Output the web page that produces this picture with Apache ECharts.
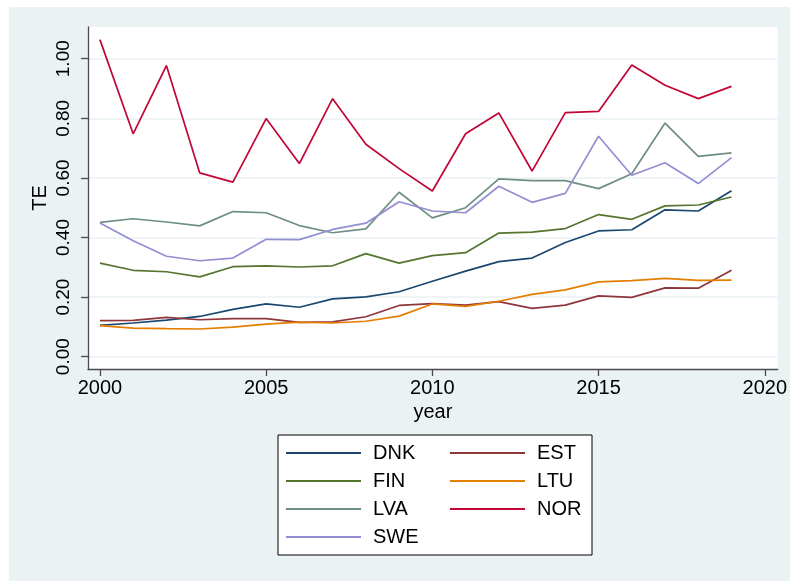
<!DOCTYPE html>
<html>
<head>
<meta charset="utf-8">
<script src="https://cdn.jsdelivr.net/npm/echarts@6/dist/echarts.min.js"></script>
<style>
html,body{margin:0;padding:0;background:#fff;}
#chart{width:790px;height:581px;}
</style>
</head>
<body>
<div id="chart"></div>
<script>
var years = [2000,2001,2002,2003,2004,2005,2006,2007,2008,2009,2010,2011,2012,2013,2014,2015,2016,2017,2018,2019];
var DNK = [0.105,0.113,0.123,0.135,0.159,0.177,0.166,0.194,0.201,0.218,0.253,0.287,0.319,0.331,0.383,0.422,0.426,0.493,0.489,0.557];
var EST = [0.121,0.122,0.132,0.124,0.128,0.128,0.115,0.117,0.134,0.172,0.178,0.173,0.185,0.162,0.173,0.204,0.199,0.231,0.230,0.290];
var FIN = [0.314,0.290,0.285,0.268,0.302,0.305,0.301,0.305,0.346,0.314,0.339,0.349,0.415,0.418,0.430,0.477,0.461,0.506,0.509,0.536];
var LTU = [0.104,0.096,0.094,0.093,0.099,0.109,0.116,0.113,0.119,0.136,0.177,0.169,0.186,0.209,0.224,0.251,0.255,0.263,0.256,0.257];
var LVA = [0.451,0.463,0.452,0.439,0.487,0.483,0.440,0.416,0.429,0.552,0.466,0.500,0.597,0.591,0.591,0.564,0.614,0.784,0.672,0.684];
var NOR = [1.064,0.748,0.977,0.617,0.586,0.799,0.648,0.866,0.713,0.631,0.556,0.748,0.818,0.623,0.819,0.823,0.979,0.911,0.866,0.907];
var SWE = [0.449,0.389,0.337,0.322,0.331,0.394,0.393,0.427,0.448,0.520,0.489,0.483,0.572,0.518,0.548,0.740,0.609,0.651,0.581,0.668];

var xTicks = [2000,2005,2010,2015,2020];
var yTicks = [0,0.2,0.4,0.6,0.8,1.0];

var seriesDefs = [
  {name:'DNK', data:DNK, color:'#1a476f'},
  {name:'EST', data:EST, color:'#90353b'},
  {name:'FIN', data:FIN, color:'#55752f'},
  {name:'LTU', data:LTU, color:'#e37e00'},
  {name:'LVA', data:LVA, color:'#6e8e84'},
  {name:'NOR', data:NOR, color:'#c10534'},
  {name:'SWE', data:SWE, color:'#938dd2'}
];

var FONT = '"Liberation Sans", Arial, Helvetica, sans-serif';
var AX = '#4a4a4a';

var chart = echarts.init(document.getElementById('chart'), null, {renderer:'canvas'});

var series = seriesDefs.map(function(s){
  return {
    name: s.name,
    type: 'line',
    data: years.map(function(y,i){return [y, s.data[i]];}),
    symbol: 'none',
    color: s.color,
    itemStyle: {color: s.color},
    lineStyle: {color: s.color, width: 1.7},
    clip: false,
    animation: false
  };
});

var legendCommon = {
  orient: 'vertical',
  icon: 'rect',
  itemWidth: 75,
  itemHeight: 2,
  itemGap: 8,
  padding: 0,
  selectedMode: false,
  textStyle: {fontFamily: FONT, fontSize: 20, color: '#000', padding: [0,0,0,7]}
};

var option = {
  backgroundColor: '#fff',
  animation: false,
  graphic: [
    {type:'rect', z:-10, silent:true, shape:{x:9, y:7, width:781, height:574}, style:{fill:'#EAF2F3'}},
    {type:'rect', z:100, silent:true, shape:{x:278, y:435, width:314, height:120}, style:{fill:'#fff', stroke:'#000', lineWidth:1}}
  ],
  grid: {
    left: 88, top: 27, width: 694, height: 342,
    show: true, backgroundColor: '#fff', borderWidth: 0,
    containLabel: false
  },
  xAxis: {
    type: 'value',
    min: 1999.6413, max: 2020.3886,
    name: 'year',
    nameLocation: 'middle',
    nameGap: 32,
    nameTextStyle: {fontFamily: FONT, fontSize: 20, color: '#000'},
    axisLine: {show: true, onZero: false, lineStyle: {color: AX, width: 1.3}},
    axisTick: {show: true, length: 7, customValues: xTicks, lineStyle: {color: AX, width: 1.3}},
    axisLabel: {customValues: xTicks, margin: 9, fontFamily: FONT, fontSize: 20, color: '#000',
      formatter: function(v){ return String(Math.round(v)); }},
    splitLine: {show: false}
  },
  yAxis: {
    type: 'value',
    min: -0.0413, max: 1.1064,
    name: 'TE',
    nameLocation: 'middle',
    nameGap: 38,
    nameRotate: 90,
    nameMoveOverlap: false,
    nameTextStyle: {fontFamily: FONT, fontSize: 20, color: '#000'},
    axisLine: {show: true, onZero: false, lineStyle: {color: AX, width: 1.3}},
    axisTick: {show: true, length: 7, customValues: yTicks, lineStyle: {color: AX, width: 1.3}},
    axisLabel: {customValues: yTicks, rotate: 90, margin: 15, fontFamily: FONT, fontSize: 19, color: '#000',
      formatter: function(v){ return Number(v).toFixed(2); }},
    splitLine: {show: true, lineStyle: {color: '#EAF2F3', width: 1.6}}
  },
  legend: [
    Object.assign({}, legendCommon, {left: 286, top: 443, z: 200, data: ['DNK','FIN','LVA','SWE']}),
    Object.assign({}, legendCommon, {left: 450, top: 443, z: 200, data: ['EST','LTU','NOR']})
  ],
  series: series
};
chart.setOption(option);
</script>
</body>
</html>
